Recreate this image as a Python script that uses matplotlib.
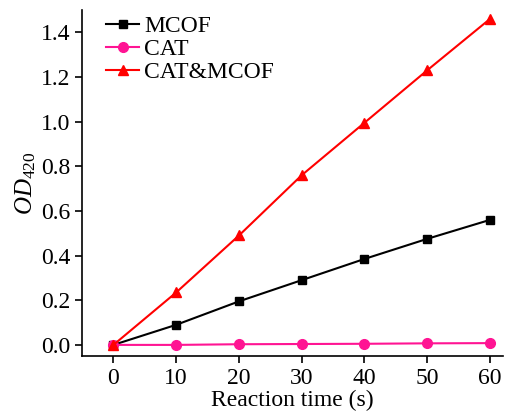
import matplotlib
matplotlib.use("Agg")
import matplotlib.pyplot as plt

time_s = [0, 10, 20, 30, 40, 50, 60]
mcof = [0.0, 0.09, 0.195, 0.29, 0.385, 0.475, 0.56]
cat = [0.0, 0.0, 0.003, 0.004, 0.005, 0.007, 0.008]
cat_mcof = [0.0, 0.235, 0.49, 0.76, 0.995, 1.23, 1.46]
xticks = [0, 10, 20, 30, 40, 50, 60]
yticks = [0.0, 0.2, 0.4, 0.6, 0.8, 1.0, 1.2, 1.4]

plt.rcParams['font.family'] = ['Liberation Serif', 'DejaVu Serif']
plt.rcParams['mathtext.fontset'] = 'custom'
plt.rcParams['mathtext.rm'] = 'Liberation Serif'
plt.rcParams['mathtext.it'] = 'Liberation Serif:italic'

fig = plt.figure(figsize=(5.16, 4.15), dpi=100)
ax = fig.add_axes([0.159, 0.142, 0.815, 0.834])

ax.plot(time_s, mcof, color='black', marker='s', markersize=6, lw=1.5, label='MCOF')
ax.plot(time_s, cat, color='#ff1493', marker='o', markersize=7, lw=1.5, label='CAT')
ax.plot(time_s, cat_mcof, color='#ff0000', marker='^', markersize=7, lw=1.5, label='CAT&MCOF')

ax.set_xlim(-5, 62)
ax.set_ylim(-0.05, 1.5)
ax.set_xticks(xticks)
ax.set_yticks(yticks)
ax.set_yticklabels([f"{v:.1f}" for v in yticks])
ax.spines['top'].set_visible(False)
ax.spines['right'].set_visible(False)
for s in ['left', 'bottom']:
    ax.spines[s].set_linewidth(1.2)
ax.tick_params(direction='out', length=5, width=1.2, labelsize=17)
ax.set_xlabel('Reaction time (s)', fontsize=17, labelpad=1)
ax.set_ylabel(r'$\mathit{OD}_{420}$', fontsize=18, labelpad=2)

ax.legend(loc='upper left', frameon=False, fontsize=17, handlelength=1.4,
          handletextpad=0.2, labelspacing=0.05, borderaxespad=0.0,
          bbox_to_anchor=(0.035, 1.01))

fig.savefig('out.png', dpi=100)
